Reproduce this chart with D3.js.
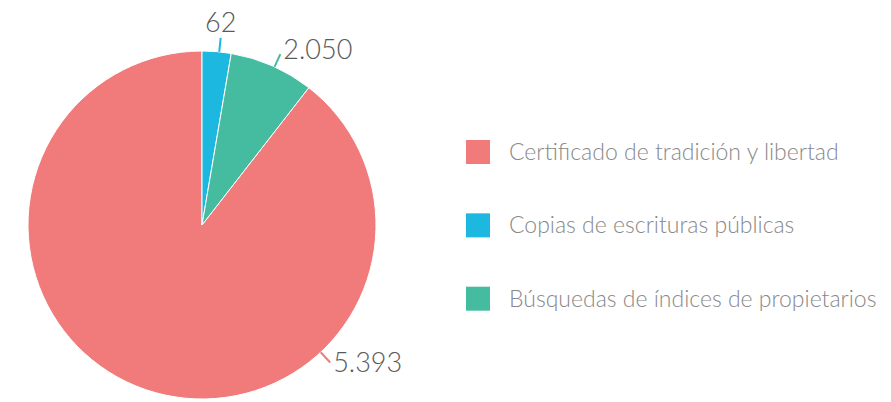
<!DOCTYPE html>
<html>
<head>
<meta charset="utf-8">
<script src="https://cdn.jsdelivr.net/npm/d3@7"></script>
<style>
  html, body { margin: 0; padding: 0; background: #fff; }
  svg { display: block; font-family: "Lato", "Open Sans", sans-serif; }
  .value { fill: #5a5a5a; font-size: 27px; font-weight: 300; }
  .legend text { fill: #888; font-size: 23px; font-weight: 300; }
</style>
</head>
<body>
<svg id="chart" width="891" height="402"></svg>
<script>
// categories in legend order
const categories = [
  "Certificado de tradición y libertad",
  "Copias de escrituras públicas",
  "Búsquedas de índices de propietarios",
];
// slice sizes as drawn in the picture
const sliceValues = [5393, 162, 472];
// value labels as printed beside the slices
const valueLabels = ["5.393", "62", "2.050"];
const colors = ["#f17a7a", "#1cb8df", "#45bc9f"];

// draw order clockwise from 12 o'clock: blue, green, red
const drawOrder = [1, 2, 0];

const svg = d3.select("#chart");
const cx = 202;
const cy = 225;
const radius = 174;

const data = categories.map((c, i) => ({
  name: c,
  value: sliceValues[i],
  label: valueLabels[i],
  color: colors[i],
  idx: i,
}));

const pie = d3
  .pie()
  .value((d) => d.value)
  .sort((a, b) => drawOrder.indexOf(a.idx) - drawOrder.indexOf(b.idx));

const arcs = pie(data);
const arc = d3.arc().innerRadius(0).outerRadius(radius);

const g = svg.append("g").attr("transform", `translate(${cx},${cy})`);

g.selectAll("path.slice")
  .data(arcs)
  .join("path")
  .attr("class", "slice")
  .attr("d", arc)
  .attr("fill", (d) => d.data.color)
  .attr("stroke", "#fff")
  .attr("stroke-width", 1);

// label angle: mid angle, except the big slice label which sits lower right
function labelAngle(d) {
  if (d.data.idx === 0) return (137 * Math.PI) / 180;
  return (d.startAngle + d.endAngle) / 2 + 0.015;
}

const polar = (a, r) => [Math.sin(a) * r, -Math.cos(a) * r];

const lab = g.selectAll("g.lab").data(arcs).join("g").attr("class", "lab");

lab
  .append("line")
  .attr("x1", (d) => polar(labelAngle(d), radius)[0])
  .attr("y1", (d) => polar(labelAngle(d), radius)[1])
  .attr("x2", (d) => polar(labelAngle(d), radius + 14)[0])
  .attr("y2", (d) => polar(labelAngle(d), radius + 14)[1])
  .attr("stroke", (d) => d.data.color)
  .attr("stroke-width", 2);

lab
  .append("text")
  .attr("class", "value")
  .attr("text-anchor", (d) => (d.data.idx === 1 ? "middle" : "start"))
  .attr("x", (d) => {
    const p = polar(labelAngle(d), radius + 14);
    return d.data.idx === 1 ? p[0] : p[0] + 3;
  })
  .attr("y", (d) => {
    const p = polar(labelAngle(d), radius + 14);
    if (d.data.idx === 1) return p[1] - 6;
    if (d.data.idx === 2) return p[1] + 5;
    return p[1] + 10;
  })
  .text((d) => d.data.label);

// legend
const legend = svg.append("g").attr("class", "legend");
const ly = d3.scalePoint().domain(d3.range(categories.length)).range([152, 298.7]);

const item = legend
  .selectAll("g")
  .data(data)
  .join("g")
  .attr("transform", (d) => `translate(466,${ly(d.idx)})`);

item
  .append("rect")
  .attr("x", 0)
  .attr("y", -12)
  .attr("width", 24)
  .attr("height", 24)
  .attr("fill", (d) => d.color);

item
  .append("text")
  .attr("x", 43)
  .attr("y", 0)
  .attr("dy", "0.35em")
  .text((d) => d.name);
</script>
</body>
</html>
